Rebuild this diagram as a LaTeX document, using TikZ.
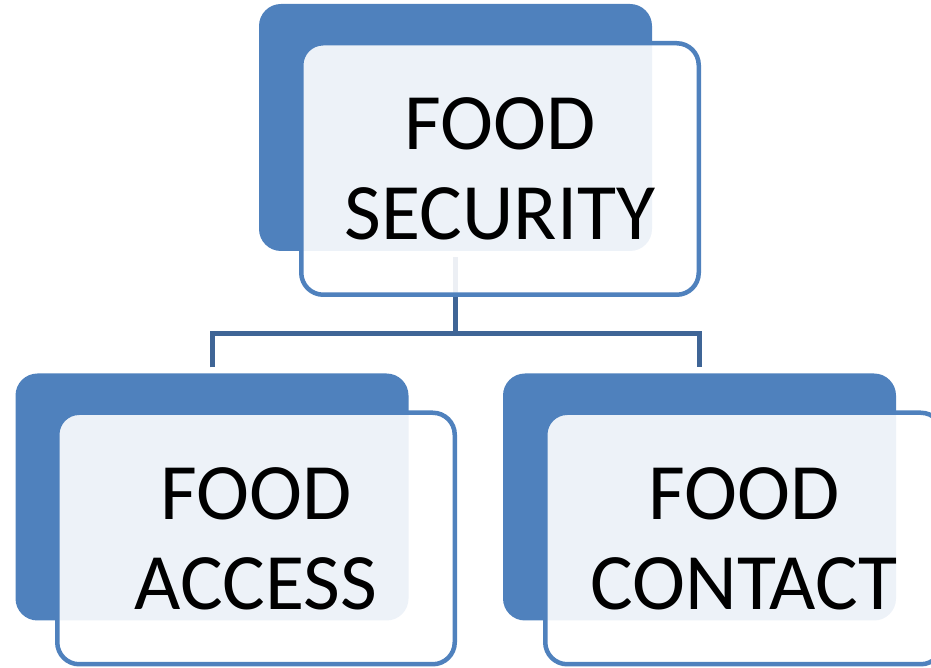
\documentclass[tikz,border=0pt]{standalone}
\usepackage{fontspec}
\setmainfont{Carlito}
\definecolor{boxblue}{HTML}{4F81BD}
\definecolor{lineblue}{HTML}{3F6596}
\tikzset{
    darkbox/.style={fill=boxblue, rounded corners=22pt, minimum width=393pt, minimum height=247pt, inner sep=0pt},
    lightbox/.style={draw=boxblue, line width=4.5pt, fill=white, fill opacity=0.9, text opacity=1, rounded corners=22pt,
        minimum width=397.5pt, minimum height=251.5pt, inner sep=0pt, align=center, font=\fontsize{80}{90}\selectfont},
    conn/.style={draw=lineblue, line width=5pt}
}
\begin{document}
\begin{tikzpicture}[x=1pt,y=1pt]
    \useasboundingbox (0,0) rectangle (931,668);

    % 绘制底层深色方块
    \node[darkbox] (secdark) at (455.5,540.5) {};
    \node[darkbox] (accdark) at (212,171) {};
    \node[darkbox] (condark) at (699.5,171) {};

    % 绘制连接线
    \coordinate (bar) at (455.5,334.5);
    \draw[conn] ([yshift=-6pt]secdark.south) -- (bar);
    \draw[conn] ([yshift=6pt]accdark.north) |- (bar) -| ([yshift=6pt]condark.north);

    % 绘制上层浅色方块和文字
    \node[lightbox] (sec) at (500,499) {FOOD\\SECURITY};
    \node[lightbox] (acc) at (256,129.5) {FOOD\\ACCESS};
    \node[lightbox] (con) at (744,129.5) {FOOD\\CONTACT};

\end{tikzpicture}
\end{document}
